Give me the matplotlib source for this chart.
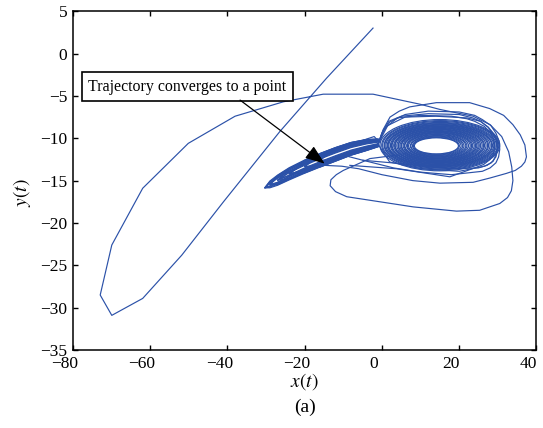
import numpy as np
import matplotlib
matplotlib.use("Agg")
import matplotlib.pyplot as plt
import matplotlib.transforms as mtransforms
from matplotlib.patches import Ellipse

plt.rcParams['font.family'] = ['Liberation Serif', 'DejaVu Serif']
plt.rcParams['mathtext.fontset'] = 'stix'

blue = '#2b51a8'

# initial transient: start near (-2, 3), sweep out to the left and come back
path_x = [-2.3, -14.3, -26.4, -41.0, -51.8, -61.9, -69.9, -72.9, -69.9, -61.9, -50.1,
          -38.0, -25.5, -15.2, -2.3, 10.0, 15.0, 23.6, 28.0, 31.0, 32.8, 33.6, 33.9, 33.5,
          32.5, 30.5, 25.3, 19.3, 8.1, -0.5, -9.1, -12.0, -13.4, -13.2, -11.8, -10.0, -3.1, 3.8]
path_y = [3.0, -2.9, -9.2, -17.5, -23.8, -28.9, -30.9, -28.5, -22.6, -15.9, -10.6,
          -7.4, -5.7, -4.8, -4.8, -6.0, -6.6, -7.4, -8.4, -9.8, -11.6, -13.4, -15.0, -16.2,
          -17.0, -17.7, -18.5, -18.6, -18.1, -17.5, -16.9, -16.3, -15.6, -14.9, -14.3, -13.8, -12.4, -12.0]

# big outer loop leaving the pinch point
outer_x = [-1.0, 0.3, 2.1, 4.5, 7.2, 14.1, 22.7, 27.9, 31.5, 33.9, 35.8, 37.0, 37.4, 37.0,
           36.1, 34.5, 32.2, 27.9, 23.6, 15.0, 8.0, 0.0, -6.0, -10.4, -14.8]
outer_y = [-10.7, -9.0, -7.5, -6.8, -6.3, -5.8, -5.8, -6.5, -7.3, -8.4, -9.6, -10.8, -12.2,
           -12.8, -13.3, -13.8, -14.15, -14.7, -15.2, -15.3, -15.0, -14.3, -13.6, -13.3, -13.2]

# sparse loops fanning out of the pinch
s1_x = [-1.0, 0.0, 2.0, 6.0, 12.0, 20.0, 24.0, 26.0, 28.2, 29.5, 30.3, 30.5, 30.2, 29.5,
        28.0, 26.0, 18.0, 10.0, 3.0, -4.9, -10.0]
s1_y = [-10.7, -9.4, -8.1, -7.2, -6.8, -6.9, -7.3, -7.8, -8.5, -9.4, -10.3, -11.3, -12.2,
        -12.9, -13.5, -13.9, -14.3, -14.0, -13.5, -12.6, -12.0]
s2_x = [-1.0, 0.2, 1.8, 5.0, 12.0, 20.0, 23.5, 25.5, 27.5, 28.8, 29.6, 29.8, 29.5, 28.8,
        27.2, 25.0, 17.6, 5.0, -4.9]
s2_y = [-10.7, -9.2, -8.0, -7.4, -7.1, -7.2, -7.6, -8.0, -8.7, -9.5, -10.3, -11.2, -12.0,
        -12.7, -13.2, -13.5, -13.6, -13.0, -12.6]
s3_x = [-1.0, 0.8, 4.0, 10.0, 18.0, 22.0, 24.0, 26.5, 28.0, 28.9, 29.2, 28.9, 28.0, 26.3,
        24.0, 17.6, 3.8, -8.3]
s3_y = [-10.7, -8.8, -7.6, -7.3, -7.4, -7.7, -8.0, -8.6, -9.3, -10.1, -11.0, -11.8, -12.5,
        -13.1, -13.5, -14.55, -13.6, -13.2]
s4_x = [-1.0, 1.5, 6.0, 14.0, 22.0, 25.5, 27.5, 29.2, 30.0, 29.9, 29.5, 28.3, 26.5, 20.0,
        10.0, 2.0, -1.0]
s4_y = [-10.7, -8.5, -7.5, -7.4, -7.6, -8.0, -8.7, -9.6, -10.5, -11.4, -12.2, -12.9, -13.3,
        -13.9, -13.6, -12.8, -10.7]
s5_x = [-8.0, -4.0, -2.0, -1.0]
s5_y = [-10.8, -10.1, -9.8, -10.3]

# dense spiral around (14, -10.9)
ring_w = [11.4, 11.9, 12.6, 13.4, 13.9, 14.8, 15.4, 16.0, 16.9, 17.4, 18.0, 18.8, 19.3,
          19.9, 20.6, 21.0, 21.7, 22.5, 23.0, 23.5, 24.3, 24.9, 25.4, 26.2, 26.8, 27.2,
          27.9, 28.5, 29.0, 29.8, 30.3, 31.0]
ring_h = [1.9, 2.0, 2.15, 2.3, 2.45, 2.6, 2.7, 2.85, 3.0, 3.1, 3.2, 3.35, 3.45,
          3.55, 3.7, 3.8, 3.9, 4.05, 4.15, 4.25, 4.4, 4.5, 4.6, 4.75, 4.85, 4.95,
          5.1, 5.25, 5.4, 5.6, 5.8, 6.05]
ring_cx = [14.1, 14.1, 14.2, 14.2, 14.3, 14.3, 14.3, 14.4, 14.4, 14.5, 14.5, 14.5, 14.6,
           14.6, 14.6, 14.7, 14.7, 14.7, 14.8, 14.8, 14.8, 14.9, 14.9, 14.9, 15.0, 15.0,
           15.0, 15.0, 15.1, 15.1, 15.1, 15.0]
ring_cy = [-10.9, -10.9, -10.9, -10.9, -10.9, -10.89, -10.89, -10.88, -10.88, -10.88,
           -10.87, -10.87, -10.87, -10.87, -10.86, -10.86, -10.86, -10.86, -10.85, -10.85,
           -10.85, -10.85, -10.84, -10.84, -10.84, -10.84, -10.83, -10.83, -10.83, -10.82,
           -10.82, -10.82]

# thin tail from the tip (-30, -16) to the pinch (-1, -10.6)
tail_x = [-30.3, -29.0, -27.0, -24.0, -20.0, -16.0, -12.0, -8.0, -4.0, -1.0]
tail_c = [-15.85, -15.45, -14.95, -14.2, -13.35, -12.6, -11.9, -11.25, -10.8, -10.55]
tail_hw = [0.0, 0.4, 0.6, 0.72, 0.78, 0.8, 0.8, 0.75, 0.65, 0.45]
tail_tip = [0, 0, 1, 1, 2, 2, 3, 3, 4, 5, 0, 2, 1, 3, 0, 4]
tail_scale = [1.0, 0.6, 0.9, 0.45, 0.8, 0.3, 0.95, 0.55, 0.7, 0.85, 0.8, 0.2, 0.75,
              0.65, 0.4, 1.0]

fig = plt.figure(figsize=(5.43, 4.28), dpi=100)
ax = fig.add_axes([0.134, 0.182, 0.854, 0.792])

lw = 0.85
ax.plot(path_x, path_y, color=blue, lw=lw)
ax.plot(outer_x, outer_y, color=blue, lw=lw)
for xs, ys in [(s1_x, s1_y), (s2_x, s2_y), (s3_x, s3_y), (s4_x, s4_y), (s5_x, s5_y)]:
    ax.plot(xs, ys, color=blue, lw=lw)

for cx, cy, w, h in zip(ring_cx, ring_cy, ring_w, ring_h):
    ax.add_patch(Ellipse((cx, cy), w, h, fill=False, ec=blue, lw=lw))

tx = np.array(tail_x)
tc = np.array(tail_c)
th = np.array(tail_hw)
for i, s in zip(tail_tip, tail_scale):
    up = tc[i + 1:] + s * th[i + 1:]
    lo = tc[i + 1:] - s * th[i + 1:]
    xs = np.concatenate([tx[i + 1:][::-1], [tx[i]], tx[i + 1:]])
    ys = np.concatenate([up[::-1], [tc[i]], lo])
    ax.plot(xs, ys, color=blue, lw=lw)

ax.text(-50.3, -3.9, 'Trajectory converges to a point', fontsize=11.4,
        ha='center', va='center', zorder=5,
        bbox=dict(boxstyle='square,pad=0.4', fc='white', ec='black', lw=1.2))
ax.annotate('', xy=(-14.8, -13.0), xytext=(-36.7, -5.5),
            arrowprops=dict(arrowstyle='-|>,head_length=1.2,head_width=0.45',
                            color='black', lw=0.9, mutation_scale=10,
                            shrinkA=0, shrinkB=0), zorder=6)

ax.set_xlim(-80, 40)
ax.set_ylim(-35, 5)
ax.set_xticks(np.arange(-80, 41, 20))
ax.set_yticks(np.arange(-35, 6, 5))
ax.tick_params(direction='in', top=True, right=True, length=3.6, width=1.0,
               labelsize=12.5, pad=4)
for sp in ax.spines.values():
    sp.set_linewidth(1.1)

# x tick labels sit a little left of their ticks in the original
shift = mtransforms.ScaledTranslation(-8 / 100, 0, fig.dpi_scale_trans)
for t in ax.xaxis.get_major_ticks():
    t.label1.set_transform(t.label1.get_transform() + shift)

ax.set_xlabel(r'$x(t)$', fontsize=14)
ax.set_ylabel(r'$y(t)$', fontsize=14)
ax.xaxis.set_label_coords(0.5, -0.062)
ax.yaxis.set_label_coords(-0.085, 0.465)
fig.text(0.562, 0.049, '(a)', fontsize=14, ha='center', va='center')

fig.savefig('out.png', dpi=100)
